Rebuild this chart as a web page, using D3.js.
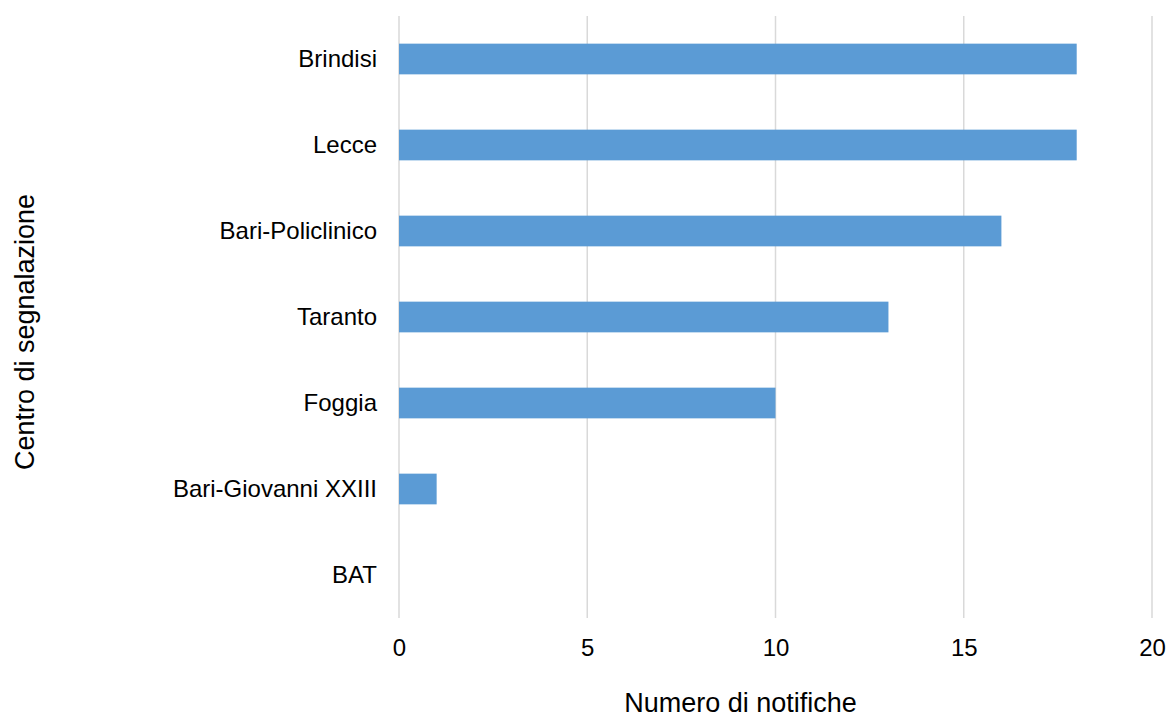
<!DOCTYPE html>
<html>
<head>
<meta charset="utf-8">
<script src="https://cdn.jsdelivr.net/npm/d3@7"></script>
<style>
  html, body { margin: 0; padding: 0; background: #fff; }
  svg { display: block; font-family: "Liberation Sans", Arial, sans-serif; }
</style>
</head>
<body>
<svg id="chart" width="1167" height="717"></svg>
<script>
// Notifiche per centro di segnalazione
const categories = ["Brindisi", "Lecce", "Bari-Policlinico", "Taranto", "Foggia", "Bari-Giovanni XXIII", "BAT"];
const values = [18, 18, 16, 13, 10, 1, 0];
const xTicks = [0, 5, 10, 15, 20];
const xTitle = "Numero di notifiche";
const yTitle = "Centro di segnalazione";

const svg = d3.select("#chart");
const margin = { left: 399, right: 15, top: 16, bottom: 99 };
const W = 1167, H = 717;

const x = d3.scaleLinear().domain([0, 20]).range([margin.left, W - margin.right]);
const y = d3.scaleBand().domain(categories)
  .range([margin.top, H - margin.bottom])
  .paddingInner(0.643).paddingOuter(0.3215);

// vertical gridlines
svg.append("g").selectAll("line").data(xTicks).join("line")
  .attr("x1", d => x(d)).attr("x2", d => x(d))
  .attr("y1", margin.top).attr("y2", H - margin.bottom)
  .attr("stroke", "#d9d9d9").attr("stroke-width", 1.5);

// bars
svg.append("g").selectAll("rect").data(categories).join("rect")
  .attr("x", x(0))
  .attr("y", d => y(d))
  .attr("width", (d, i) => x(values[i]) - x(0))
  .attr("height", y.bandwidth())
  .attr("fill", "#5b9bd5");

// x tick labels
const xAxis = d3.axisBottom(x).tickValues(xTicks).tickSize(0).tickPadding(0);
const gx = svg.append("g").attr("transform", `translate(0,${H - margin.bottom + 21})`).call(xAxis);
gx.select(".domain").remove();
gx.selectAll("text").attr("font-size", 24).attr("fill", "#000")
  .attr("font-family", "Liberation Sans, Arial, sans-serif");

// category labels
const yAxis = d3.axisLeft(y).tickSize(0).tickPadding(22);
const gy = svg.append("g").attr("transform", `translate(${margin.left},0)`).call(yAxis);
gy.select(".domain").remove();
gy.selectAll("text").attr("font-size", 24).attr("fill", "#000")
  .attr("font-family", "Liberation Sans, Arial, sans-serif");

// axis titles
svg.append("text").attr("x", (x(0) + x(20)) / 2 - 35).attr("y", 712)
  .attr("text-anchor", "middle").attr("font-size", 27).attr("fill", "#000")
  .text(xTitle);
svg.append("text")
  .attr("transform", `translate(34,${(margin.top + H - margin.bottom) / 2 + 15}) rotate(-90)`)
  .attr("text-anchor", "middle").attr("font-size", 27).attr("fill", "#000")
  .text(yTitle);
</script>
</body>
</html>
